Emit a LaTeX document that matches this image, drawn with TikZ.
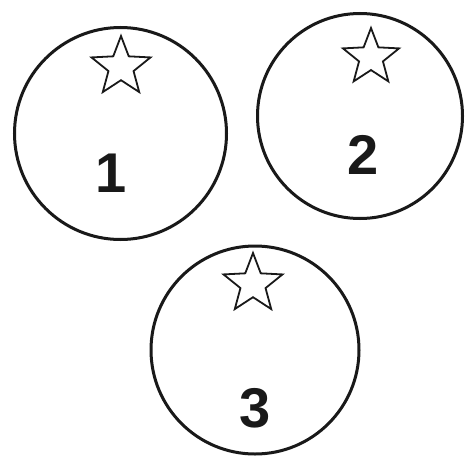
\documentclass[tikz,border=0pt]{standalone}
\usepackage{fontspec}
\setmainfont{Liberation Sans}
\usetikzlibrary{shapes.geometric}
\begin{document}
\begin{tikzpicture}[x=1pt,y=-1pt,
  ring/.style={draw=black!90, line width=3pt, circle, inner sep=0pt},
  starmark/.style={draw=black!90, line width=1.8pt, star, star points=5, star point ratio=2.35, inner sep=0pt},
  numlabel/.style={inner sep=0pt, font=\fontsize{56}{60}\selectfont\bfseries, text=black!90}]
\useasboundingbox (0,0) rectangle (468,455);
\node[ring, minimum size=212pt] (c1) at (120.5,133.5) {};
\node[ring, minimum size=205pt] (c2) at (360,116) {};
\node[ring, minimum size=208pt] (c3) at (255,350) {};
\node[starmark, minimum size=62pt] (s1) at (121,67) {};
\node[starmark, minimum size=59pt] (s2) at (371,57.5) {};
\node[starmark, minimum size=62pt] (s3) at (253,284) {};
\node[numlabel] (n1) at (111,173) {1};
\node[numlabel] (n2) at (363,155) {2};
\node[numlabel] (n3) at (255,408) {3};
\end{tikzpicture}
\end{document}
